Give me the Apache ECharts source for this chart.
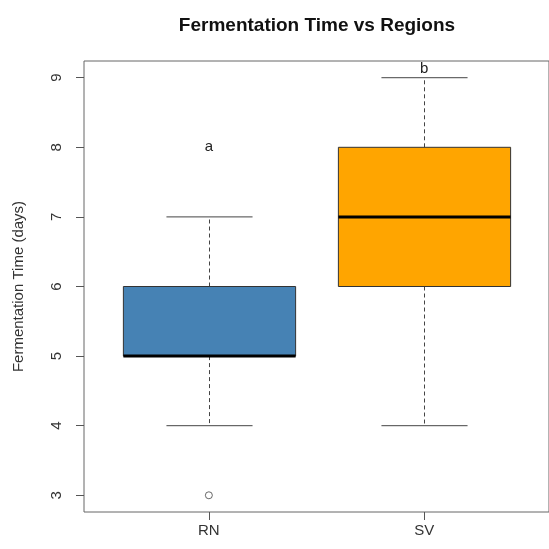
<!DOCTYPE html>
<html>
<head>
<meta charset="utf-8">
<script src="https://cdn.jsdelivr.net/npm/echarts@6/dist/echarts.min.js"></script>
<style>
  html, body { margin: 0; padding: 0; background: #ffffff; }
  #chart { width: 549px; height: 549px; }
</style>
</head>
<body>
<div id="chart"></div>
<script>
// Fermentation time per region: five-number summaries
const regions = ['RN', 'SV'];
const whiskerLow = [4, 4];
const quartile1 = [5, 6];
const medians = [5, 7];
const quartile3 = [6, 8];
const whiskerHigh = [7, 9];
// outlying observations: [region position, days]
const outliers = [[1, 3]];
// significance letters and the height they are written at
const groupLetters = ['a', 'b'];
const letterHeights = [8, 9.13];
const yTicks = [3, 4, 5, 6, 7, 8, 9];
const boxColors = ['#4682B4', '#FFA500'];

const positions = regions.map((_, i) => i + 1);
const boxData = regions.map((_, i) => [
  positions[i], whiskerLow[i], quartile1[i], medians[i], quartile3[i], whiskerHigh[i]
]);
const letterData = regions.map((_, i) => [positions[i], letterHeights[i], groupLetters[i]]);

const FONT = '"Liberation Sans", Arial, Helvetica, sans-serif';
const chart = echarts.init(document.getElementById('chart'), null, { renderer: 'canvas' });

function renderBox(params, api) {
  const x = api.value(0);
  const lo = api.value(1), q1 = api.value(2), med = api.value(3), q3 = api.value(4), hi = api.value(5);
  const cx = Math.round(api.coord([x, 0])[0]) + 0.5;
  const boxHalf = api.size([0.8, 0])[0] / 2;
  const capHalf = boxHalf / 2;
  const y = v => api.coord([x, v])[1];
  const whisk = { stroke: '#444', lineWidth: 1, lineDash: [4, 3] };
  const solid = { stroke: '#444', lineWidth: 1 };
  return {
    type: 'group',
    children: [
      { type: 'line', shape: { x1: cx, y1: y(q3), x2: cx, y2: y(hi) }, style: whisk },
      { type: 'line', shape: { x1: cx, y1: y(q1), x2: cx, y2: y(lo) }, style: whisk },
      { type: 'line', shape: { x1: cx - capHalf, y1: y(hi), x2: cx + capHalf, y2: y(hi) }, style: solid },
      { type: 'line', shape: { x1: cx - capHalf, y1: y(lo), x2: cx + capHalf, y2: y(lo) }, style: solid },
      {
        type: 'rect',
        shape: { x: cx - boxHalf, y: y(q3), width: boxHalf * 2, height: y(q1) - y(q3) },
        style: { fill: boxColors[params.dataIndex], stroke: '#333', lineWidth: 1 }
      },
      { type: 'line', shape: { x1: cx - boxHalf, y1: y(med), x2: cx + boxHalf, y2: y(med) },
        style: { stroke: '#000', lineWidth: 3 } }
    ]
  };
}

function renderLetter(params, api) {
  const pt = api.coord([api.value(0), api.value(1)]);
  return {
    type: 'text',
    x: pt[0], y: pt[1],
    style: {
      text: groupLetters[params.dataIndex],
      fill: '#222', font: '15px ' + FONT,
      align: 'center', verticalAlign: 'middle'
    }
  };
}

chart.setOption({
  animation: false,
  backgroundColor: '#ffffff',
  title: {
    text: 'Fermentation Time vs Regions',
    left: 312, top: 11, textAlign: 'center',
    textStyle: { fontFamily: FONT, fontSize: 19, fontWeight: 'bold', color: '#111' }
  },
  grid: {
    left: 84, top: 61, width: 467, height: 451,
    show: true, borderColor: '#666', borderWidth: 1, backgroundColor: 'transparent'
  },
  xAxis: {
    type: 'value', min: 0.42, max: 2.58,
    axisLine: { show: false },
    splitLine: { show: false },
    axisTick: { show: true, customValues: positions, length: 8, lineStyle: { color: '#555' } },
    axisLabel: {
      customValues: positions, margin: 11,
      formatter: v => regions[Math.round(v) - 1],
      fontFamily: FONT, fontSize: 15, color: '#333'
    }
  },
  yAxis: {
    type: 'value', min: 2.76, max: 9.24,
    name: 'Fermentation Time (days)', nameLocation: 'middle', nameGap: 58,
    nameTextStyle: { fontFamily: FONT, fontSize: 15, color: '#333' },
    axisLine: { show: false },
    splitLine: { show: false },
    axisTick: { show: true, customValues: yTicks, length: 8, lineStyle: { color: '#555' } },
    axisLabel: {
      customValues: yTicks, rotate: 90, margin: 20,
      fontFamily: FONT, fontSize: 15, color: '#333'
    }
  },
  series: [
    {
      type: 'custom', name: 'boxes', renderItem: renderBox,
      encode: { x: 0, y: [1, 2, 3, 4, 5] }, data: boxData
    },
    {
      type: 'scatter', name: 'outliers', data: outliers,
      symbol: 'circle', symbolSize: 7,
      itemStyle: { color: 'rgba(255,255,255,0)', borderColor: '#444', borderWidth: 1 }
    },
    {
      type: 'custom', name: 'letters', renderItem: renderLetter,
      encode: { x: 0, y: 1 }, data: letterData
    }
  ]
});
</script>
</body>
</html>
